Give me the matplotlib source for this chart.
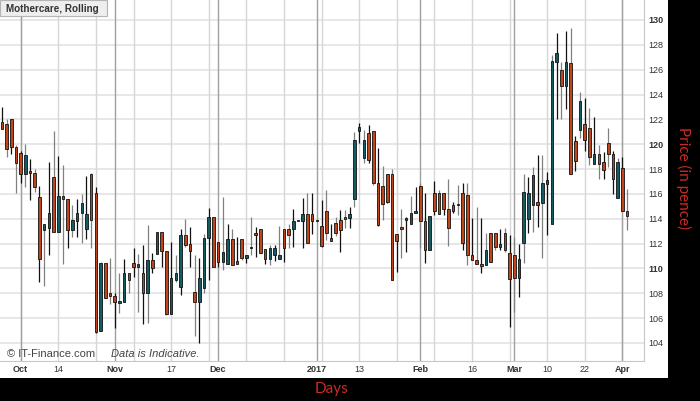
import matplotlib
matplotlib.use('Agg')
import matplotlib.pyplot as plt
from matplotlib.patches import Rectangle

# ---- data (trading-day index 1..134, Oct 2016 - Apr 2017) ----
opens = [121.82, 121.63, 122.00, 119.80, 119.32, 117.60, 117.84, 117.66, 115.72, 113.09,
         113.23, 117.33, 112.96, 115.83, 115.62, 113.09, 113.85, 114.43, 113.15, 117.60,
         116.10, 104.99, 110.41, 108.05, 107.78, 107.24, 107.32, 109.66, 110.41, 110.14,
         109.60, 107.99, 110.68, 111.16, 112.96, 111.43, 106.33, 109.07, 108.53, 112.69,
         111.96, 108.13, 107.32, 108.40, 112.42, 114.11, 112.10, 110.54, 110.33, 112.37,
         110.59, 112.37, 110.81, 111.62, 112.82, 113.15, 111.54, 110.73, 111.08, 110.73,
         113.15, 113.15, 113.15, 113.82, 113.84, 114.38, 114.38, 113.84, 113.41, 114.65,
         112.42, 113.68, 113.89, 114.11, 114.03, 115.56, 121.09, 118.86, 120.93, 121.09,
         116.90, 116.63, 117.60, 117.60, 112.77, 113.31, 113.90, 113.57, 114.43, 116.63,
         113.84, 111.48, 116.10, 116.10, 116.10, 114.76, 115.11, 115.11, 116.10, 115.91,
         111.08, 110.68, 110.35, 110.27, 112.82, 112.82, 111.70, 112.88, 111.21, 111.08,
         109.20, 112.07, 113.95, 115.10, 115.37, 115.29, 116.77, 113.57, 126.65, 125.97,
         124.69, 126.56, 120.28, 121.14, 121.63, 121.33, 118.41, 119.21, 118.59, 120.07,
         119.21, 115.64, 118.06, 114.65]
highs = [122.97, 122.00, 122.00, 119.94, 119.48, 120.02, 118.78, 118.00, 116.64, 113.58,
         118.60, 121.09, 119.05, 118.33, 115.62, 115.11, 115.56, 115.99, 117.44, 117.71,
         116.53, 110.54, 110.41, 110.81, 108.05, 109.60, 110.73, 109.66, 111.62, 111.16,
         111.88, 113.49, 111.21, 112.96, 112.96, 111.43, 112.15, 111.08, 113.14, 113.95,
         113.31, 111.08, 110.81, 112.77, 114.84, 114.11, 112.10, 115.72, 113.57, 113.17,
         112.55, 112.37, 111.08, 114.11, 113.36, 113.15, 111.54, 111.88, 111.88, 113.44,
         113.15, 113.55, 114.78, 113.84, 115.64, 116.04, 116.04, 113.84, 115.51, 116.31,
         113.57, 114.11, 114.70, 114.70, 114.97, 121.01, 121.68, 121.14, 121.55, 121.09,
         119.67, 118.24, 117.60, 117.98, 112.77, 114.76, 114.17, 115.83, 116.58, 116.85,
         116.04, 114.22, 117.06, 116.31, 116.10, 117.17, 115.37, 116.72, 116.85, 116.90,
         114.03, 114.97, 114.03, 112.82, 112.82, 112.82, 113.15, 113.23, 112.69, 112.55,
         111.96, 117.60, 117.33, 118.19, 119.13, 119.13, 117.79, 127.18, 128.98, 126.65,
         129.11, 129.33, 120.66, 124.23, 123.69, 122.89, 122.22, 119.94, 119.40, 121.28,
         119.48, 118.86, 119.00, 116.37]
lows = [121.20, 118.94, 119.21, 116.05, 116.90, 116.58, 115.51, 116.18, 108.93, 108.58,
        111.08, 112.96, 112.96, 110.36, 111.62, 112.56, 112.56, 112.07, 112.34, 111.62,
        104.77, 104.99, 107.59, 107.13, 105.18, 106.44, 107.32, 107.99, 109.33, 106.52,
        105.52, 105.63, 109.60, 111.16, 110.14, 106.25, 106.33, 108.93, 107.86, 111.75,
        110.14, 104.56, 103.97, 107.99, 109.07, 110.09, 110.14, 109.87, 110.33, 110.27,
        110.33, 110.68, 110.41, 111.08, 110.95, 111.27, 110.35, 110.27, 110.62, 110.73,
        110.54, 111.62, 111.70, 113.82, 111.62, 112.02, 112.77, 113.84, 111.75, 112.29,
        112.23, 112.61, 111.35, 113.23, 113.23, 114.97, 120.12, 118.46, 118.46, 116.71,
        113.42, 113.90, 115.24, 109.07, 109.74, 110.81, 111.35, 113.57, 114.43, 111.62,
        110.41, 111.48, 114.30, 114.38, 114.30, 111.80, 114.43, 114.30, 111.48, 110.27,
        110.68, 110.35, 109.66, 110.27, 110.54, 111.48, 111.48, 111.35, 105.31, 106.52,
        107.72, 110.46, 112.82, 112.96, 113.36, 110.81, 112.69, 113.57, 122.00, 122.00,
        122.81, 117.60, 117.87, 120.47, 119.48, 118.33, 118.41, 117.17, 117.17, 118.19,
        115.99, 115.64, 114.65, 113.09]
closes = [121.20, 119.59, 119.80, 118.46, 117.60, 119.10, 117.66, 116.58, 110.73, 113.58,
          114.43, 112.96, 115.83, 115.62, 113.09, 113.90, 114.43, 115.29, 114.38, 113.90,
          104.91, 110.41, 107.59, 107.78, 107.32, 107.40, 109.66, 109.07, 110.14, 110.35,
          107.99, 110.68, 110.01, 112.96, 111.43, 106.33, 109.20, 109.60, 112.69, 111.88,
          111.43, 107.32, 109.20, 112.42, 114.11, 110.09, 110.54, 111.29, 112.37, 110.27,
          110.33, 110.81, 111.08, 111.70, 112.66, 111.27, 110.73, 111.62, 111.62, 111.08,
          111.62, 112.69, 113.82, 113.84, 114.38, 112.02, 113.84, 113.84, 111.80, 112.82,
          112.23, 112.88, 113.09, 113.95, 114.38, 120.34, 121.36, 120.34, 118.73, 116.90,
          113.49, 115.18, 115.37, 109.07, 112.23, 113.17, 114.03, 114.43, 114.62, 113.84,
          111.48, 114.22, 114.62, 114.38, 114.76, 113.23, 114.65, 115.18, 112.07, 111.08,
          110.68, 110.35, 110.19, 111.48, 110.54, 111.70, 111.97, 111.48, 109.12, 109.20,
          110.73, 116.18, 116.04, 117.52, 115.10, 116.85, 117.12, 126.73, 127.37, 124.69,
          126.59, 117.60, 118.67, 123.50, 120.34, 118.94, 119.21, 118.41, 117.92, 119.21,
          117.17, 118.59, 114.65, 114.22]

tick_pos = [5, 13, 25, 37, 47, 68, 77, 90, 101, 110, 117, 125, 133]
tick_labels = ['Oct', '14', 'Nov', '17', 'Dec', '2017', '13', 'Feb', '16', 'Mar', '10', '22', 'Apr']
month_pos = [5, 25, 47, 68, 90, 110, 133]
y_ticks = list(range(104, 131, 2))
bold_y = [110, 120, 130]

# ---- figure ----
W, H = 700, 401
fig = plt.figure(figsize=(W / 100, H / 100), dpi=100)
fig.patch.set_facecolor('black')
fig.patches.append(Rectangle((0, 1 - 378 / H), 668 / W, 378 / H, transform=fig.transFigure,
                             facecolor='white', edgecolor='none', zorder=-1))

ax = fig.add_axes([0, 1 - 361 / H, 644 / W, 361 / H])
ax.set_facecolor('white')

n = len(opens)
xs = list(range(1, n + 1))

# grid
for yv in y_ticks:
    ax.axhline(yv, color='#e0e0e0', lw=1.1, zorder=0)
for xv in range(5, 138, 8):
    ax.axvline(xv, color='#d6d6d6', lw=1.0, zorder=0)
for xv in month_pos:
    ax.axvline(xv, color='#a0a0a0', lw=1.0, zorder=0)

# candles
red = '#c0451b'
teal = '#135c64'
wick_cols = ['#808080' if (i % 2 == 0) else '#111111' for i in xs]
ax.vlines(xs, lows, highs, colors=wick_cols, linewidth=0.9, zorder=2)
bottoms = [min(o, c) for o, c in zip(opens, closes)]
heights = [max(abs(c - o), 0.04) for o, c in zip(opens, closes)]
cols = [teal if c >= o else red for o, c in zip(opens, closes)]
ax.bar(xs, heights, bottom=bottoms, width=0.55, color=cols, edgecolor='#111111',
       linewidth=0.6, zorder=3)

ax.set_xlim(0.6, 137.6)
ax.set_ylim(102.54, 131.61)

for s in ['left', 'top']:
    ax.spines[s].set_visible(False)
for s in ['bottom', 'right']:
    ax.spines[s].set_color('#c8c8c8')
    ax.spines[s].set_linewidth(0.8)

ax.set_xticks(tick_pos)
ax.set_xticklabels(tick_labels)
ax.tick_params(axis='x', length=0, pad=3.2, labelsize=6.5, colors='#333333')
for lbl in ax.get_xticklabels():
    lbl.set_family('Liberation Sans')
    if not lbl.get_text().isdigit() or lbl.get_text() == '2017':
        lbl.set_fontweight('bold')

ax.yaxis.tick_right()
ax.set_yticks(y_ticks)
ax.set_yticklabels([str(v) for v in y_ticks])
ax.tick_params(axis='y', length=0, pad=3.0, labelsize=6.5, colors='#333333')
for lbl, v in zip(ax.get_yticklabels(), y_ticks):
    lbl.set_family('Liberation Sans')
    if v in bold_y:
        lbl.set_fontweight('bold')

# title box
fig.patches.append(Rectangle((0, 1 - 16 / H), 107 / W, 16 / H, transform=fig.transFigure,
                             facecolor='#eeeeee', edgecolor='#b4b4b4', lw=0.8, zorder=5))
fig.text(6.5 / W, 1 - 8.5 / H, 'Mothercare, Rolling', fontsize=7.1, fontweight='bold',
         family='Liberation Sans', color='#333333', va='center', ha='left', zorder=6)

# watermark
fig.text(7 / W, 1 - 354 / H, '\u00a9 IT-Finance.com', fontsize=8, family='Liberation Sans',
         color='#444444', va='center', ha='left', zorder=6)
fig.text(111 / W, 1 - 354 / H, 'Data is Indicative.', fontsize=8, family='Liberation Sans',
         style='italic', color='#444444', va='center', ha='left', zorder=6)

# axis titles
fig.text(331 / W, 1 - 389 / H, 'Days', fontsize=11, family='Lato', color='#cc2a22',
         va='center', ha='center')
fig.text(684 / W, 1 - 178 / H, 'Price (in pence)', fontsize=11, family='Lato',
         color='#cc2a22', va='center', ha='center', rotation=270)

fig.savefig('out.png', dpi=100, facecolor='black')
